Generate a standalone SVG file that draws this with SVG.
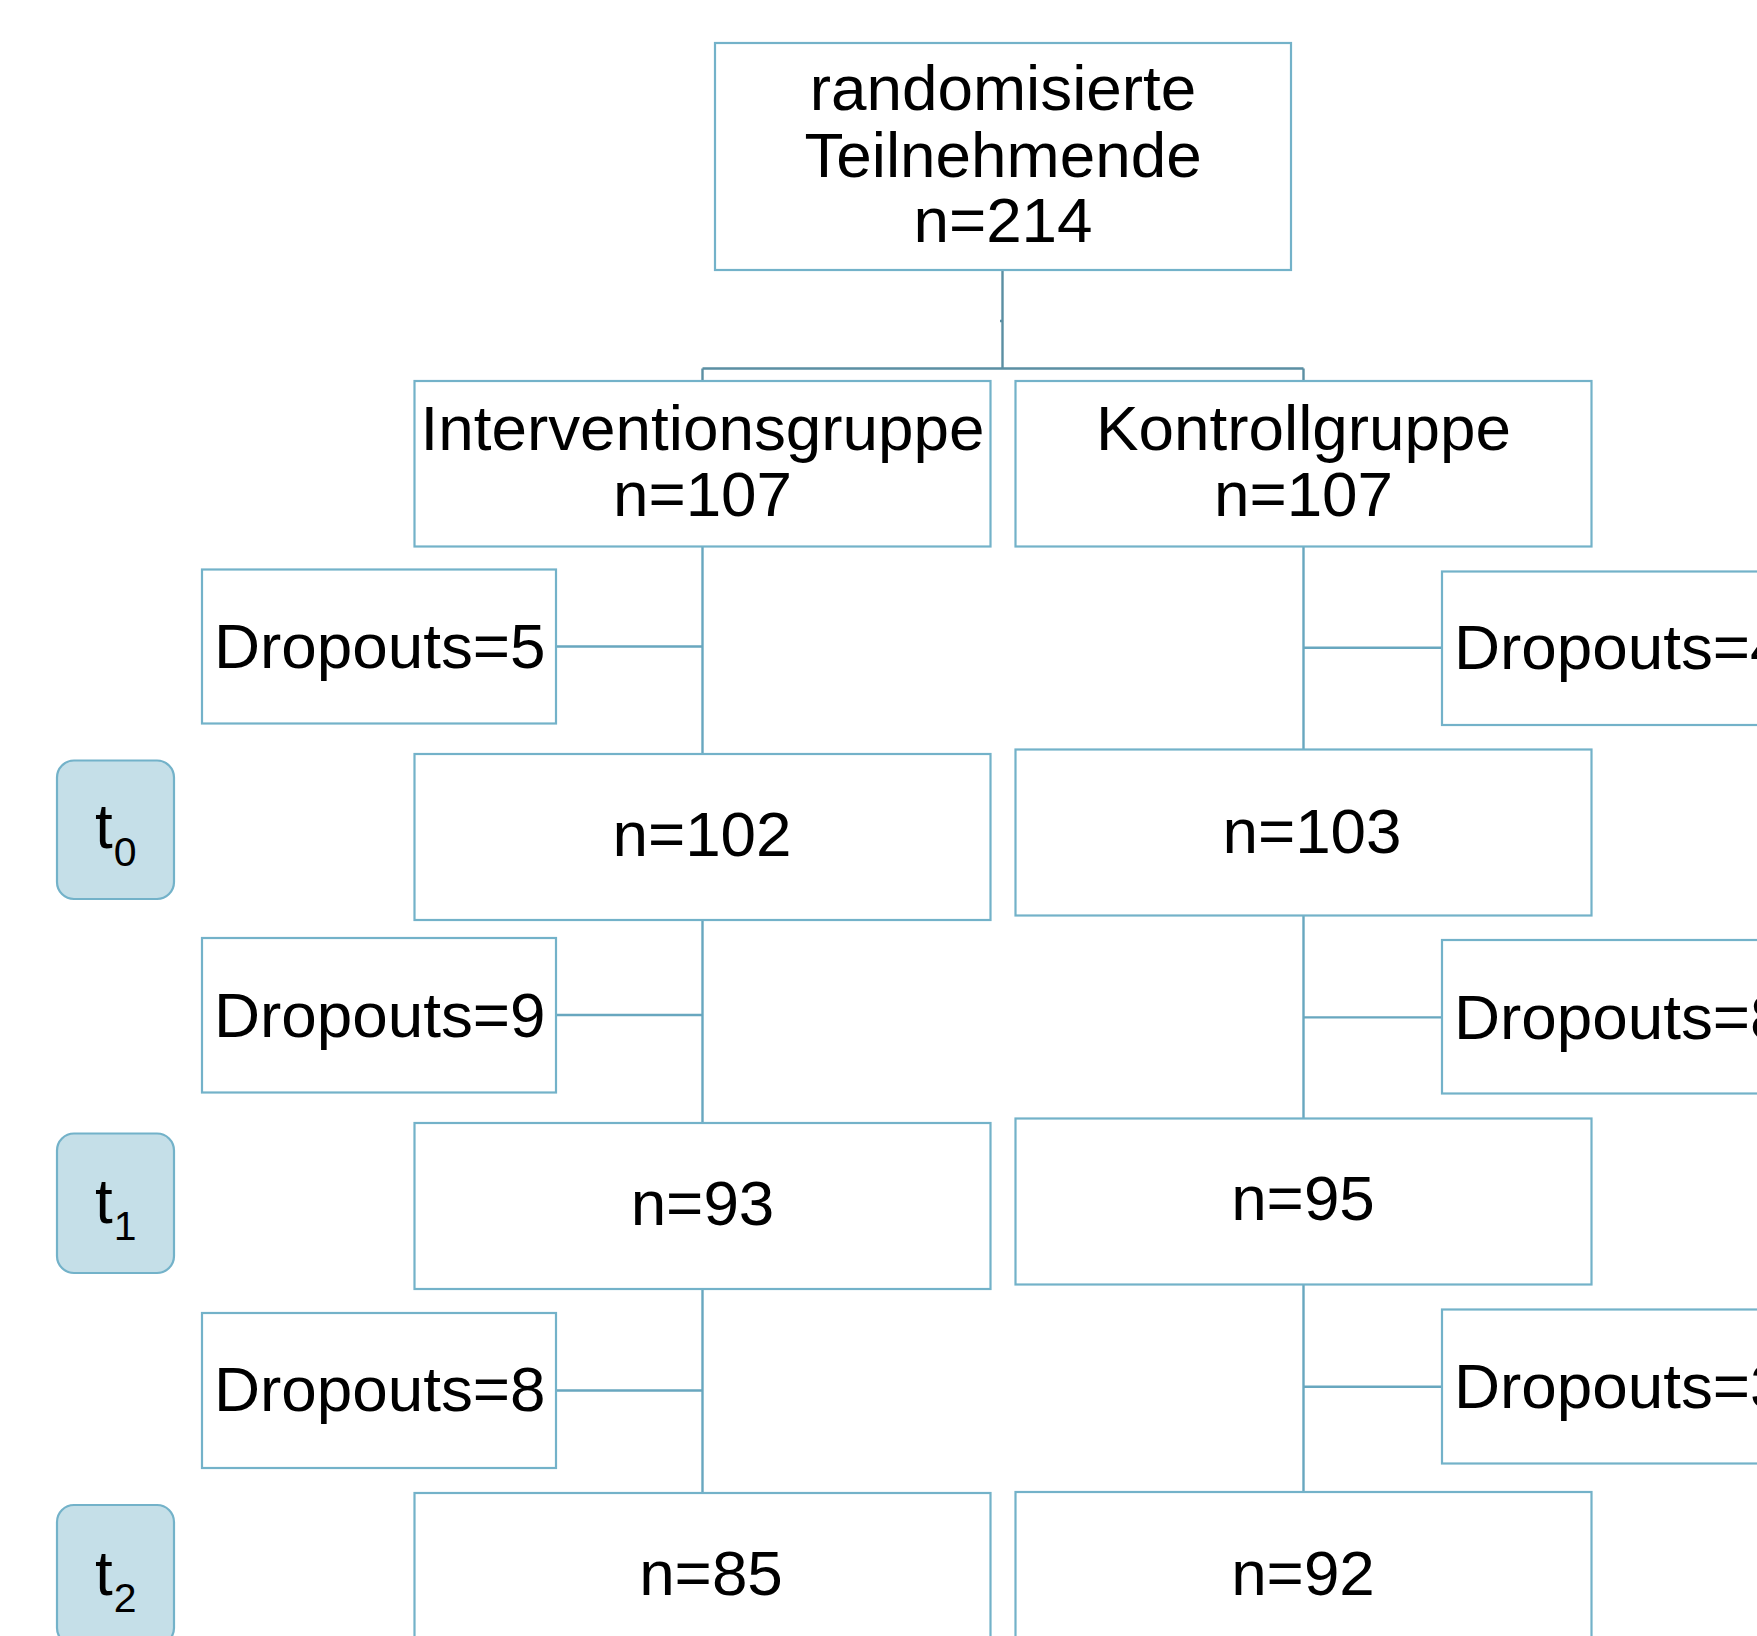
<svg xmlns="http://www.w3.org/2000/svg" width="1757" height="1636" viewBox="0 0 1757 1636">
<style>
.box{fill:#ffffff;stroke:#73b2c9;stroke-width:2.2}
.tbox{fill:#c5dfe8;stroke:#73b2c9;stroke-width:2.2}
.lbl{font-family:"Liberation Sans",Arial,sans-serif;font-size:63.8px;fill:#000000}
.mid{text-anchor:middle}
.sub{font-size:41px}
.c1{stroke:#5b8fa3;stroke-width:2.4;fill:none}
.c2{stroke:#68a7bf;stroke-width:2.4;fill:none}
</style>
<rect width="1757" height="1636" fill="#ffffff"/>
<g id="connectors">
<path class="c1" d="M1002.5 270 V368.5 M1000 321 H1002.5 M702.5 368.5 H1303.5 M702.5 368.5 V381 M1303.5 368.5 V381"/>
<path class="c2" d="M702.5 546.5 V754 M702.5 920 V1123 M702.5 1289 V1493 M556 646.5 H702.5 M556 1015 H702.5 M556 1390.5 H702.5"/>
<path class="c2" d="M1303.5 546.5 V749.5 M1303.5 915.5 V1118.5 M1303.5 1284.5 V1492 M1303.5 647.7 H1442 M1303.5 1017.4 H1442 M1303.5 1386.7 H1442"/>
</g>
<g id="randomisiert">
<rect class="box" x="715" y="43" width="576" height="227"/>
<text class="lbl mid" x="1003" y="110">randomisierte</text>
<text class="lbl mid" x="1003" y="176.5">Teilnehmende</text>
<text class="lbl mid" x="1003" y="242">n=214</text>
</g>
<g id="interventionsgruppe">
<rect class="box" x="414.5" y="381" width="576" height="165.5"/>
<text class="lbl mid" x="702.5" y="450">Interventionsgruppe</text>
<text class="lbl mid" x="702.5" y="516">n=107</text>
</g>
<g id="kontrollgruppe">
<rect class="box" x="1015.5" y="381" width="576" height="165.5"/>
<text class="lbl mid" x="1303.5" y="450">Kontrollgruppe</text>
<text class="lbl mid" x="1303.5" y="516">n=107</text>
</g>
<g id="dropouts-i1">
<rect class="box" x="202" y="569.5" width="354" height="154"/>
<text class="lbl" x="214" y="668">Dropouts=5</text>
</g>
<g id="dropouts-k1">
<rect class="box" x="1442" y="571.5" width="354" height="153.5"/>
<text class="lbl" x="1454" y="668.5">Dropouts=4</text>
</g>
<g id="t0">
<rect class="tbox" x="57" y="760.5" width="117" height="138.5" rx="17"/>
<text class="lbl" x="95" y="848">t<tspan class="sub" dx="1" dy="18">0</tspan></text>
</g>
<g id="i-t0">
<rect class="box" x="414.5" y="754" width="576" height="166"/>
<text class="lbl mid" x="702" y="856">n=102</text>
</g>
<g id="k-t0">
<rect class="box" x="1015.5" y="749.5" width="576" height="166"/>
<text class="lbl mid" x="1312" y="853">n=103</text>
</g>
<g id="dropouts-i2">
<rect class="box" x="202" y="938" width="354" height="154.5"/>
<text class="lbl" x="214" y="1036.5">Dropouts=9</text>
</g>
<g id="dropouts-k2">
<rect class="box" x="1442" y="940" width="354" height="153.5"/>
<text class="lbl" x="1454" y="1038.5">Dropouts=8</text>
</g>
<g id="t1">
<rect class="tbox" x="57" y="1133.5" width="117" height="139.5" rx="17"/>
<text class="lbl" x="95" y="1223">t<tspan class="sub" dx="1" dy="17">1</tspan></text>
</g>
<g id="i-t1">
<rect class="box" x="414.5" y="1123" width="576" height="166"/>
<text class="lbl mid" x="702.5" y="1224.5">n=93</text>
</g>
<g id="k-t1">
<rect class="box" x="1015.5" y="1118.5" width="576" height="166"/>
<text class="lbl mid" x="1303" y="1220">n=95</text>
</g>
<g id="dropouts-i3">
<rect class="box" x="202" y="1313" width="354" height="155"/>
<text class="lbl" x="214" y="1411">Dropouts=8</text>
</g>
<g id="dropouts-k3">
<rect class="box" x="1442" y="1309.5" width="354" height="154"/>
<text class="lbl" x="1454" y="1407.5">Dropouts=3</text>
</g>
<g id="t2">
<rect class="tbox" x="57" y="1505" width="117" height="140" rx="17"/>
<text class="lbl" x="95" y="1595">t<tspan class="sub" dx="1" dy="17">2</tspan></text>
</g>
<g id="i-t2">
<rect class="box" x="414.5" y="1493" width="576" height="166"/>
<text class="lbl mid" x="711" y="1595">n=85</text>
</g>
<g id="k-t2">
<rect class="box" x="1015.5" y="1492" width="576" height="166"/>
<text class="lbl mid" x="1303" y="1595">n=92</text>
</g>
</svg>
